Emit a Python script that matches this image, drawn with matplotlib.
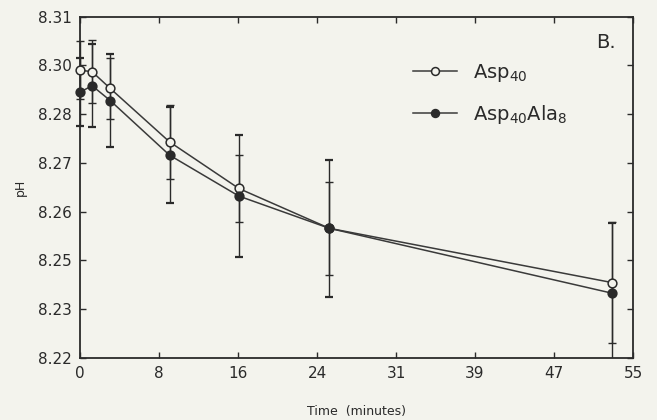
import matplotlib
matplotlib.use("Agg")
import matplotlib.pyplot as plt
from matplotlib.patches import Rectangle
import numpy as np

# Data
time_min = [0, 1.2, 3, 8.9, 15.8, 24.8, 52.9]
ph_asp40 = [8.2959, 8.2955, 8.2911, 8.2770, 8.2647, 8.2542, 8.2399]
err_asp40 = [0.0077, 0.0083, 0.0081, 0.0097, 0.0088, 0.0122, 0.0159]
ph_asp40ala8 = [8.2901, 8.2918, 8.2879, 8.2735, 8.2627, 8.2542, 8.2371]
err_asp40ala8 = [0.0089, 0.0110, 0.0123, 0.0127, 0.0161, 0.0180, 0.0185]

xtick_labels = ['0', '8', '16', '24', '31', '39', '47', '55']
ytick_labels = ['8.22', '8.23', '8.25', '8.26', '8.27', '8.28', '8.30', '8.31']
x_range = (0, 55)
y_range = (8.22, 8.31)

bg = '#f3f3ed'
ink = '#2a2a2a'

plt.rcParams['font.family'] = ['DejaVu Sans']
fig = plt.figure(figsize=(6.57, 4.20), dpi=100, facecolor=bg)
ax = fig.add_axes([0.1218, 0.1476, 0.9635 - 0.1218, 0.9602 - 0.1476])
ax.set_facecolor(bg)

clip_rect = Rectangle((-0.2, 0.0), 1.4, 1.0, transform=ax.transAxes,
                      facecolor='none', edgecolor='none')
ax.add_patch(clip_rect)

def draw(ph, err, mfc, capthick, label):
    eb = ax.errorbar(time_min, ph, yerr=err, fmt='none', ecolor=ink,
                     elinewidth=1.0, capsize=3.2, capthick=capthick, zorder=2)
    for art in list(eb.lines[1]) + list(eb.lines[2]):
        art.set_clip_on(True)
        art.set_clip_path(clip_rect)
    ax.plot(time_min, ph, '-', color='#3a3a3a', lw=1.1, marker='o',
            markersize=6.3, markerfacecolor=mfc, markeredgecolor=ink,
            markeredgewidth=1.1, clip_on=False, zorder=3, label=label)

draw(ph_asp40, err_asp40, bg, 1.0, r'Asp$_{40}$')
draw(ph_asp40ala8, err_asp40ala8, ink, 1.6, r'Asp$_{40}$Ala$_{8}$')

ax.set_xlim(*x_range)
ax.set_ylim(*y_range)
ax.set_xticks(np.linspace(x_range[0], x_range[1], len(xtick_labels)))
ax.set_xticklabels(xtick_labels)
ax.set_yticks(np.linspace(y_range[0], y_range[1], len(ytick_labels)))
ax.set_yticklabels(ytick_labels)
ax.tick_params(direction='in', length=4, width=1.0, color=ink, labelcolor=ink,
               labelsize=11, top=True, right=True, pad=6)
for s in ax.spines.values():
    s.set_color(ink)
    s.set_linewidth(1.3)

ax.set_xlabel('Time  (minutes)', fontsize=9, color=ink, labelpad=17)
ax.set_ylabel('pH', fontsize=9, color=ink, labelpad=8)

ax.text(0.968, 0.925, 'B.', transform=ax.transAxes, fontsize=14, color=ink,
        ha='right', va='center')

leg = ax.legend(loc='upper left', bbox_to_anchor=(0.57, 0.92), frameon=False,
                fontsize=14, handlelength=2.3, handletextpad=0.8,
                labelspacing=1.0, labelcolor=ink, markerscale=0.9)

fig.savefig('out.png', dpi=100, facecolor=bg)
